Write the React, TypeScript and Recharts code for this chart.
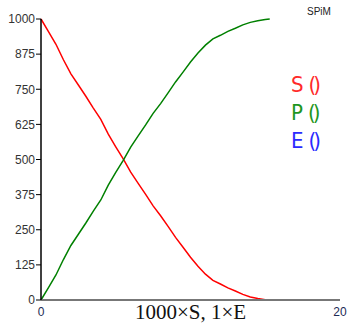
import { LineChart, Line, XAxis, YAxis, Legend, Label } from 'recharts';

const times = [0, 0.5, 1, 1.5, 2, 2.5, 3, 3.5, 4, 4.5, 5, 5.5, 6, 6.5, 7, 7.5, 8, 8.5, 9, 9.5, 10, 10.5, 11, 11.5, 12, 12.5, 13, 13.5, 14, 14.5, 15, 15.3];
const sValues = [1000, 955, 910, 855, 805, 765, 725, 683, 643, 590, 545, 502, 455, 415, 376, 335, 300, 262, 223, 188, 152, 120, 92, 70, 57, 43, 32, 20, 11, 5, 1, 0];
const pValues = [0, 44, 89, 144, 194, 234, 274, 316, 356, 409, 454, 497, 544, 584, 623, 664, 699, 737, 776, 811, 847, 879, 907, 929, 942, 956, 967, 979, 988, 994, 998, 1000];
const eValues = [1, 1, 1, 1, 1, 1, 1, 1, 1, 1, 1, 1, 1, 1, 1, 1, 1, 1, 1, 1, 1, 1, 1, 1, 1, 1, 1, 1, 1, 1, 1, 1];
const yTicks = [0, 125, 250, 375, 500, 625, 750, 875, 1000];
const xTicks = [0, 20];

const data = times.map((t, i) => ({ t, S: sValues[i], P: pValues[i], E: eValues[i] }));

const series = [
  { key: 'E', name: 'E()', color: '#0000ff' },
  { key: 'S', name: 'S()', color: '#ff0000' },
  { key: 'P', name: 'P()', color: '#008000' },
];

const legendColors: Record<string, string> = { S: '#ff2a2a', P: '#1e961e', E: '#2a2aff' };
const legendOrder = ['S', 'P', 'E'];

const renderLegend = () => (
  <div style={{ fontFamily: '"DejaVu Sans Condensed", "DejaVu Sans", sans-serif', fontSize: 22, lineHeight: '28px', textAlign: 'left' }}>
    {legendOrder.map((n) => (
      <div key={n} style={{ color: legendColors[n], whiteSpace: 'nowrap' }}>
        {n}<span style={{ marginLeft: 5, letterSpacing: -3 }}>()</span>
      </div>
    ))}
  </div>
);

export default function App() {
  return (
    <div style={{ position: 'absolute', left: 0, top: 0, width: 347, height: 325, background: '#fff' }}>
      <div style={{ position: 'absolute', left: 307, top: 6, fontFamily: '"Liberation Sans", Arial, sans-serif', fontSize: 10, color: '#222' }}>SPiM</div>
      <LineChart width={347} height={325} data={data} margin={{ top: 19, right: 7, left: 0, bottom: 0 }}>
        <XAxis
          dataKey="t"
          type="number"
          domain={[0, 20]}
          ticks={xTicks}
          tickLine={false}
          tickSize={0}
          tickMargin={7}
          height={25}
          axisLine={{ stroke: '#777', strokeWidth: 2 }}
          tick={{ fontSize: 12, fill: '#1c2a55', fontFamily: '"Liberation Sans", Arial, sans-serif' }}
        >
          <Label value="1000×S, 1×E" position="insideBottom" offset={6} style={{ fontFamily: '"Liberation Serif", serif', fontSize: 21, fill: '#111' }} />
        </XAxis>
        <YAxis
          type="number"
          domain={[0, 1000]}
          ticks={yTicks}
          width={41}
          tickSize={5}
          tickMargin={1}
          axisLine={{ stroke: '#000', strokeWidth: 1.5 }}
          tickLine={{ stroke: '#000' }}
          tick={{ fontSize: 12, fill: '#333', fontFamily: '"Liberation Sans", Arial, sans-serif' }}
        />
        <Legend
          layout="vertical"
          align="center"
          verticalAlign="middle"
          content={renderLegend}
          wrapperStyle={{ top: 71, left: 291, width: 50 }}
        />
        {series.map((s) => (
          <Line
            key={s.key}
            dataKey={s.key}
            name={s.name}
            stroke={s.color}
            strokeWidth={1.5}
            dot={false}
            type="linear"
            isAnimationActive={false}
          />
        ))}
      </LineChart>
    </div>
  );
}
